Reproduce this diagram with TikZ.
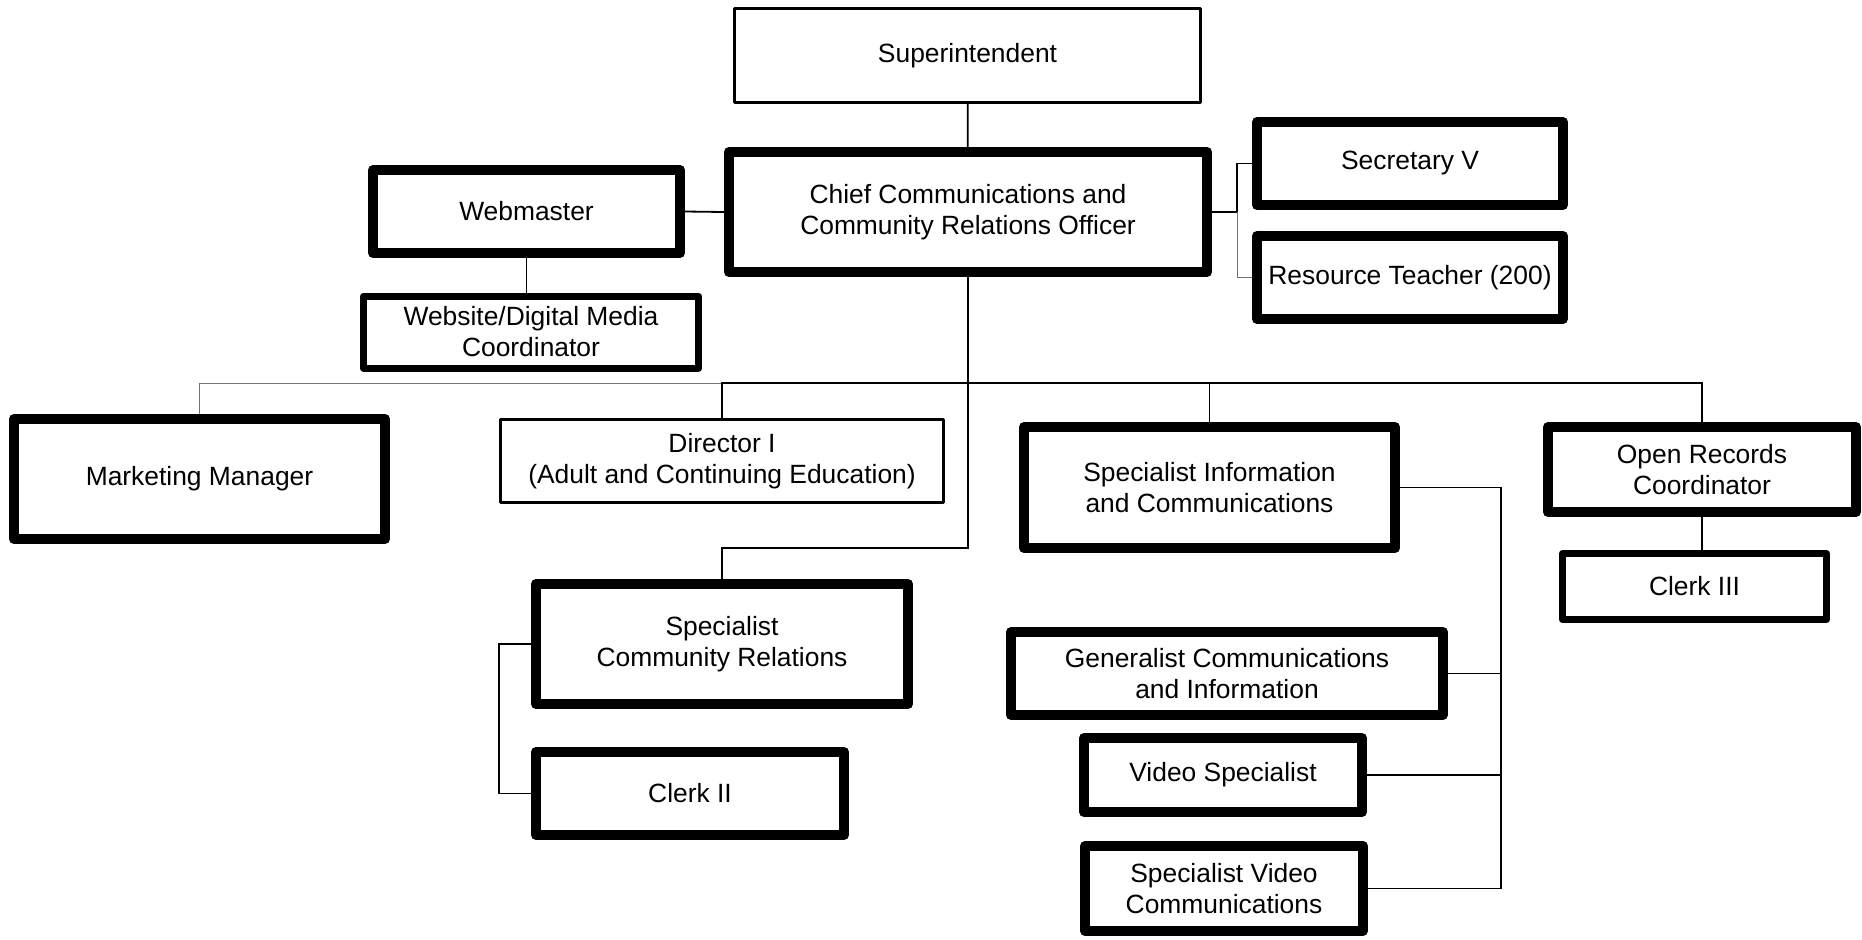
\documentclass[tikz,border=0pt]{standalone}
\usepackage{fontspec}
\setmainfont{Liberation Sans}
\usepackage{tikz}
\usetikzlibrary{positioning,calc}
\newcommand{\orgfont}{\fontsize{13.2pt}{15.5pt}\selectfont}
\tikzset{
  pbox/.style  ={rectangle, draw=black, fill=white, align=center, inner sep=2pt,
                 line join=round, font=\orgfont},
  pthin/.style ={pbox, line width=1.5pt},
  pmid/.style  ={pbox, line width=3.5pt},
  pthick/.style={pbox, line width=5pt},
  conn/.style  ={line width=0.9pt},
  connl/.style ={line width=0.5pt, black!55},
}

\begin{document}
\begin{tikzpicture}[x=0.5pt, y=-0.5pt]
  \useasboundingbox (0,0) rectangle (1862,939);
  % top of the chart
  \node[pthin, minimum width=233pt, minimum height=47pt] (sup) at (967.5,55.5) {Superintendent};
  \node[pthick, minimum width=239pt, minimum height=60pt] (chief) at (968,212) {Chief Communications and\\Community Relations Officer};
  \node[pthick, minimum width=153.5pt, minimum height=41.5pt] (web) at (526.5,211.5) {Webmaster};
  \node[pmid, minimum width=167.5pt, minimum height=36pt] (wdm) at (531,332) {Website/Digital Media\\Coordinator};
  \node[pthick, minimum width=153pt, minimum height=41.5pt] (sec) at (1410,163.5) {Secretary V};
  \node[pthick, minimum width=153pt, minimum height=41.5pt] (res) at (1410,277.5) {Resource Teacher (200)};
  % second row
  \node[pthick, minimum width=185.5pt, minimum height=60pt] (mkt) at (199.5,479) {Marketing Manager};
  \node[pthin, minimum width=221.5pt, minimum height=41.5pt] (dir) at (722,461) {Director I\\(Adult and Continuing Education)};
  \node[pthick, minimum width=185.5pt, minimum height=60.5pt] (sic) at (1209.5,487.5) {Specialist Information\\and Communications};
  \node[pthick, minimum width=154pt, minimum height=42.5pt] (orc) at (1702,469.5) {Open Records\\Coordinator};
  \node[pmid, minimum width=132pt, minimum height=33pt] (clk3) at (1694.5,586.5) {Clerk III};
  % lower part
  \node[pthick, minimum width=186pt, minimum height=60pt] (scr) at (722,644) {Specialist\\Community Relations};
  \node[pthick, minimum width=154pt, minimum height=41.5pt] (clk2) at (690,793.5) {Clerk II};
  \node[pthick, minimum width=216pt, minimum height=41.5pt] (gen) at (1227,673.5) {Generalist Communications\\and Information};
  \node[pthick, minimum width=139pt, minimum height=37pt] (vid) at (1223,775) {Video Specialist};
  \node[pthick, minimum width=139pt, minimum height=42.5pt] (svc) at (1224,888.5) {Specialist Video\\Communications};

  \coordinate (bus) at (968,383);
  \coordinate (crel) at (968,548);
  \coordinate (rb) at (1237,212);
  \coordinate (lb) at (499,644);
  \coordinate (sicv) at (1501,487.5);

  \draw[conn] (sup) -- (chief);
  \draw[conn] (chief.west) -- (web.east);
  \draw[conn] (web.south) -- (web.south |- wdm.north);
  \draw[conn] (chief.east) -- (rb);
  \draw[conn] (sec.west) -| (rb);
  \draw[connl] (rb) |- (res.west);
  \draw[conn] (chief.south) -- (crel) -| (scr.north);
  \draw[connl] (mkt.north) |- (dir.north |- bus);
  \draw[conn] (dir.north) -- (dir.north |- bus) -| (orc.north);
  \draw[conn] (sic.north) -- (sic.north |- bus);
  \draw[conn] (orc.south) -- (orc.south |- clk3.north);
  \draw[conn] (scr.west) -- (lb) |- (clk2.west);
  \draw[conn] (sic.east) -- (sicv) |- (svc.east);
  \draw[conn] (gen.east) -- (gen.east -| sicv);
  \draw[conn] (vid.east) -- (vid.east -| sicv);
\end{tikzpicture}
\end{document}
